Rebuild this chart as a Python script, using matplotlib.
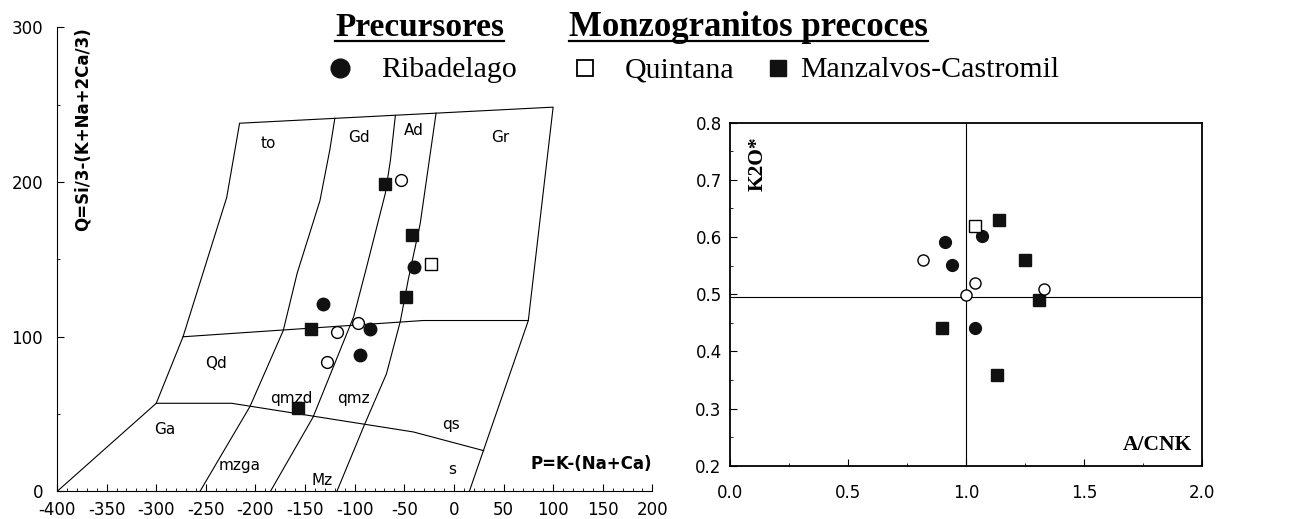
import numpy as np
import matplotlib.pyplot as plt
from matplotlib.lines import Line2D
from matplotlib.ticker import MultipleLocator

plt.rcParams['font.family'] = 'DejaVu Sans'
plt.rcParams['axes.unicode_minus'] = False

# diagrama P-Q (Debon & Le Fort): limites de campos
borde_x = [-400, -300, -273, -229, -216, 100, 75, 15.5]
borde_y = [0, 57, 100, 190, 238, 248.4, 110.5, 0]
linea_qd_x = [-273, -31, 75]
linea_qd_y = [100, 110.5, 110.5]
linea_inf_x = [-300, -224, -41, 30]
linea_inf_y = [57, 57, 38.5, 26.4]
curva1_x = [-120, -125, -135, -158, -172, -205.5, -256]
curva1_y = [241.2, 221, 188, 141, 104, 55, 0]
curva2_x = [-59, -64, -69, -88, -101, -142, -185]
curva2_y = [243, 214, 193, 145, 113, 48, 0]
curva3_x = [-18, -34, -46, -54, -68, -90, -118]
curva3_y = [244.5, 173, 137, 110, 76, 43.4, 0]

campos = ['to', 'Gd', 'Ad', 'Gr', 'Qd', 'Ga', 'mzga', 'qmzd', 'qmz', 'qs', 's', 'Mz']
campos_x = [-187, -96, -40, 47, -240, -291, -216, -164, -101, -3, -2, -133]
campos_y = [225, 229, 233, 229, 83, 40, 17, 60, 60, 43, 14, 7]

# muestras en el diagrama P-Q
rib_p = [-40, -132, -85, -95]
rib_q = [145, 121, 105, 88]
abi_p = [-53, -118, -97, -128]
abi_q = [201, 103, 109, 84]
qui_p = [-23]
qui_q = [147]
man_p = [-69, -42, -48, -144, -157]
man_q = [199, 166, 126, 105, 54]

# muestras en A/CNK - K2O*
rib_a = [0.91, 0.94, 1.07, 1.04]
rib_k = [0.591, 0.551, 0.602, 0.440]
abi_a = [0.82, 1.00, 1.04, 1.33]
abi_k = [0.559, 0.499, 0.520, 0.509]
qui_a = [1.04]
qui_k = [0.619]
man_a = [1.14, 1.25, 1.31, 0.90, 1.13]
man_k = [0.630, 0.559, 0.490, 0.440, 0.359]

fig = plt.figure(figsize=(12.9, 5.19), dpi=100)

# ---------------- panel izquierdo ----------------
ax1 = fig.add_axes([0.0442, 0.053, 0.4615, 0.8944])
for xs, ys in [(borde_x, borde_y), (linea_qd_x, linea_qd_y), (linea_inf_x, linea_inf_y),
               (curva1_x, curva1_y), (curva2_x, curva2_y), (curva3_x, curva3_y)]:
    ax1.plot(xs, ys, color='black', lw=0.8)

for t, x, y in zip(campos, campos_x, campos_y):
    ax1.text(x, y, t, fontsize=11, ha='center', va='center')

ax1.plot(rib_p, rib_q, 'o', ms=9, mfc='#111111', mec='#111111', ls='none')
ax1.plot(man_p, man_q, 's', ms=9, mfc='#111111', mec='#111111', ls='none')
ax1.plot(abi_p, abi_q, 'o', ms=8.5, mfc='white', mec='black', mew=1, ls='none')
ax1.plot(qui_p, qui_q, 's', ms=9, mfc='white', mec='black', mew=1, ls='none')

ax1.set_xlim(-400, 200)
ax1.set_ylim(0, 300)
ax1.spines['top'].set_visible(False)
ax1.spines['right'].set_visible(False)
ax1.xaxis.set_major_locator(MultipleLocator(50))
ax1.xaxis.set_minor_locator(MultipleLocator(10))
ax1.yaxis.set_major_locator(MultipleLocator(100))
ax1.yaxis.set_minor_locator(MultipleLocator(50))
ax1.tick_params(which='both', direction='in', labelsize=12)
ax1.tick_params(which='major', length=5)
ax1.tick_params(which='minor', length=2.5)
ax1.tick_params(axis='x', pad=7)
ax1.tick_params(axis='y', pad=10)

ax1.text(-374, 234, 'Q=Si/3-(K+Na+2Ca/3)', rotation=90, fontsize=12,
         fontweight='bold', ha='center', va='center')
ax1.text(200, 17.5, 'P=K-(Na+Ca)', fontsize=12, fontweight='bold',
         ha='right', va='center')

# ---------------- panel derecho ----------------
ax2 = fig.add_axes([0.5659, 0.1027, 0.3657, 0.6609])
ax2.axvline(1.0, color='black', lw=0.8)
ax2.axhline(0.495, color='black', lw=0.8)
ax2.plot(rib_a, rib_k, 'o', ms=8.5, mfc='#111111', mec='#111111', ls='none')
ax2.plot(man_a, man_k, 's', ms=9, mfc='#111111', mec='#111111', ls='none')
ax2.plot(abi_a, abi_k, 'o', ms=8, mfc='white', mec='black', mew=1, ls='none')
ax2.plot(qui_a, qui_k, 's', ms=9, mfc='white', mec='black', mew=1, ls='none')

ax2.set_xlim(0, 2)
ax2.set_ylim(0.2, 0.8)
ax2.xaxis.set_major_locator(MultipleLocator(0.5))
ax2.xaxis.set_minor_locator(MultipleLocator(0.25))
ax2.yaxis.set_major_locator(MultipleLocator(0.1))
ax2.yaxis.set_minor_locator(MultipleLocator(0.05))
ax2.xaxis.set_major_formatter(plt.FormatStrFormatter('%.1f'))
ax2.yaxis.set_major_formatter(plt.FormatStrFormatter('%.1f'))
ax2.tick_params(which='both', direction='in', labelsize=12)
ax2.tick_params(which='major', length=5)
ax2.tick_params(which='minor', length=2.5)
ax2.tick_params(axis='x', pad=13)
ax2.tick_params(axis='y', pad=6)
for s in ax2.spines.values():
    s.set_linewidth(1.3)

ax2.text(0.119, 0.776, 'K2O*', rotation=90, fontsize=15.5, fontweight='bold',
         family='Liberation Serif', ha='center', va='top')
ax2.text(1.958, 0.237, 'A/CNK', fontsize=15.5, fontweight='bold',
         family='Liberation Serif', ha='right', va='center')

# ---------------- leyenda ----------------
W, H = 1290, 519
t1 = fig.text(335 / W, 1 - 36 / H, 'Precursores', fontsize=24, fontweight='bold',
              family='Liberation Serif', va='baseline')
t2 = fig.text(569 / W, 1 - 36 / H, 'Monzogranitos precoces', fontsize=25,
              fontweight='bold', family='Liberation Serif', va='baseline')
fig.canvas.draw()
r = fig.canvas.get_renderer()
for t in (t1, t2):
    bb = t.get_window_extent(r)
    fig.add_artist(Line2D([bb.x0 / W, bb.x1 / W], [1 - 40.7 / H] * 2,
                          transform=fig.transFigure, color='black', lw=1.6))

fig.text(381 / W, 1 - 77 / H, 'Ribadelago', fontsize=21.5, family='Liberation Serif', va='baseline')
fig.text(625 / W, 1 - 77 / H, 'Quintana', fontsize=21.5, family='Liberation Serif', va='baseline')
fig.text(800 / W, 1 - 77 / H, 'Manzalvos-Castromil', fontsize=21.5, family='Liberation Serif', va='baseline')
fig.add_artist(Line2D([340 / W], [1 - 68 / H], marker='o', ms=13.5, mfc='#111111', mec='#111111',
                      transform=fig.transFigure))
fig.add_artist(Line2D([585 / W], [1 - 68 / H], marker='s', ms=11, mfc='white', mec='black', mew=1.3,
                      transform=fig.transFigure))
fig.add_artist(Line2D([778 / W], [1 - 68 / H], marker='s', ms=11.5, mfc='#111111', mec='#111111',
                      transform=fig.transFigure))

fig.savefig('out.png', dpi=100)
